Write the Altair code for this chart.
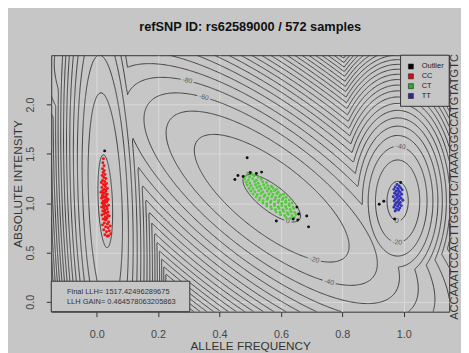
import numpy as np
import pandas as pd
import altair as alt
from collections import defaultdict

alt.data_transformers.disable_max_rows()

# ---------------- text ----------------
TITLE = "refSNP ID: rs62589000 / 572 samples"
X_TITLE = "ALLELE FREQUENCY"
Y_TITLE = "ABSOLUTE INTENSITY"
SIDE_TEXT = "ACCAAATCCACTTGGCTC/TAAAGGCCATGTATGTC"
STATS = ["Final LLH= 1517.42496289675", "LLH GAIN= 0.464578063205863"]
X_TICKS = [0.0, 0.2, 0.4, 0.6, 0.8, 1.0]
Y_TICKS = [0.0, 0.5, 1.0, 1.5, 2.0]
X_DOMAIN = [-0.148, 1.148]
Y_DOMAIN = [-0.1, 2.5]

LEGEND_LABELS = ["Outlier", "CC", "CT", "TT"]
LEGEND_COLORS = ["#000000", "#d01010", "#30a830", "#2c2c90"]
POINT_COLORS = ["#111111", "#f01515", "#52cc3a", "#3232b8"]

# ---------------- fitted cluster model ----------------
CLUSTERS = ["CC", "CT", "TT"]
MEAN_X = [0.028, 0.570, 0.980]
MEAN_Y = [1.020, 1.050, 1.020]
SD_X = [0.008, 0.037, 0.010]
SD_Y = [0.157, 0.095, 0.058]
RHO = [-0.25, -0.75, 0.0]
PEAK = [4.5, 3.2, 6.0]
LEVELS = list(range(0, -900, -20))

# contour labels: level and approximate place
LABEL_LEVEL = [-80, -60, 0, -20, -40, 0, -20, -40]
LABEL_X = [0.30, 0.355, 0.62, 0.707, 0.755, 0.978, 0.98, 0.99]
LABEL_Y = [2.32, 2.16, 0.79, 0.41, 0.17, 0.84, 0.62, 1.56]

# ---------------- samples ----------------
CC_PTS = [
    (0.022, 1.45), (0.020, 1.41), (0.024, 1.38), (0.019, 1.35), (0.025, 1.33), (0.021, 1.31),
    (0.027, 1.29), (0.018, 1.28), (0.023, 1.26), (0.030, 1.25), (0.019, 1.23), (0.026, 1.22),
    (0.015, 1.21), (0.032, 1.20), (0.022, 1.19), (0.028, 1.17), (0.017, 1.16), (0.035, 1.15),
    (0.024, 1.14), (0.020, 1.13), (0.030, 1.12), (0.014, 1.11), (0.026, 1.10), (0.034, 1.09),
    (0.019, 1.08), (0.029, 1.07), (0.023, 1.06), (0.016, 1.05), (0.037, 1.04), (0.027, 1.03),
    (0.021, 1.02), (0.032, 1.01), (0.018, 1.00), (0.025, 0.99), (0.039, 0.98), (0.029, 0.97),
    (0.016, 0.96), (0.023, 0.95), (0.034, 0.94), (0.027, 0.93), (0.020, 0.92), (0.037, 0.91),
    (0.031, 0.90), (0.024, 0.89), (0.017, 0.88), (0.041, 0.87), (0.028, 0.86), (0.034, 0.85),
    (0.021, 0.84), (0.030, 0.83), (0.039, 0.81), (0.025, 0.80), (0.035, 0.79), (0.019, 0.78),
    (0.044, 0.77), (0.029, 0.76), (0.037, 0.75), (0.023, 0.73), (0.041, 0.72), (0.032, 0.71),
    (0.046, 0.69), (0.027, 0.68), (0.039, 0.67), (0.035, 0.665), (0.026, 1.185), (0.021, 1.105),
    (0.031, 1.055), (0.024, 1.015), (0.033, 0.965), (0.026, 0.915), (0.036, 0.875), (0.022, 0.975),
    (0.029, 1.135), (0.018, 1.065), (0.034, 1.025), (0.027, 0.835),
]
CT_PTS = [
    (0.492, 1.305), (0.506, 1.295),
    (0.484, 1.272), (0.498, 1.265), (0.512, 1.278), (0.527, 1.262),
    (0.481, 1.243), (0.494, 1.236), (0.508, 1.248), (0.520, 1.232), (0.536, 1.241),
    (0.487, 1.212), (0.499, 1.205), (0.514, 1.218), (0.526, 1.203), (0.541, 1.214), (0.553, 1.207),
    (0.490, 1.183), (0.503, 1.176), (0.517, 1.188), (0.531, 1.172), (0.544, 1.185), (0.557, 1.178), (0.569, 1.171),
    (0.496, 1.152), (0.509, 1.146), (0.522, 1.158), (0.536, 1.143), (0.549, 1.155), (0.561, 1.147), (0.574, 1.153), (0.586, 1.141),
    (0.502, 1.122), (0.515, 1.116), (0.528, 1.127), (0.541, 1.113), (0.555, 1.124), (0.568, 1.118), (0.579, 1.126), (0.591, 1.112),
    (0.509, 1.092), (0.523, 1.085), (0.535, 1.097), (0.548, 1.083), (0.561, 1.094), (0.574, 1.087), (0.587, 1.096), (0.599, 1.082), (0.609, 1.091),
    (0.519, 1.062), (0.532, 1.055), (0.545, 1.067), (0.557, 1.053), (0.570, 1.064), (0.583, 1.057), (0.595, 1.066), (0.607, 1.052), (0.617, 1.061),
    (0.529, 1.032), (0.542, 1.025), (0.555, 1.037), (0.568, 1.023), (0.580, 1.034), (0.593, 1.027), (0.605, 1.036), (0.616, 1.022), (0.627, 1.031),
    (0.541, 1.002), (0.554, 0.995), (0.566, 1.007), (0.579, 0.993), (0.591, 1.004), (0.603, 0.997), (0.615, 1.006), (0.626, 0.992), (0.636, 1.001),
    (0.554, 0.972), (0.567, 0.965), (0.579, 0.977), (0.591, 0.963), (0.603, 0.974), (0.615, 0.967), (0.627, 0.976), (0.639, 0.962),
    (0.569, 0.942), (0.582, 0.935), (0.594, 0.947), (0.606, 0.933), (0.618, 0.944), (0.630, 0.937), (0.642, 0.945),
    (0.584, 0.912), (0.597, 0.905), (0.609, 0.917), (0.621, 0.903), (0.633, 0.914), (0.645, 0.907),
    (0.599, 0.882), (0.612, 0.875), (0.624, 0.887), (0.636, 0.873), (0.649, 0.884),
    (0.617, 0.852), (0.631, 0.845), (0.644, 0.856),
]
TT_PTS = [
    (0.978, 1.19), (0.985, 1.175), (0.972, 1.165), (0.990, 1.155), (0.980, 1.15), (0.968, 1.14),
    (0.995, 1.135), (0.983, 1.128), (0.975, 1.12), (0.988, 1.11), (0.970, 1.10), (0.981, 1.095),
    (0.993, 1.09), (0.976, 1.08), (0.986, 1.072), (0.966, 1.065), (0.979, 1.058), (0.991, 1.05),
    (0.973, 1.042), (0.984, 1.035), (0.997, 1.03), (0.969, 1.022), (0.980, 1.015), (0.989, 1.008),
    (0.975, 1.00), (0.985, 0.99), (0.971, 0.982), (0.992, 0.975), (0.980, 0.968), (0.968, 0.958),
    (0.987, 0.95), (0.976, 0.94), (0.983, 0.93), (0.972, 0.92),
]
OUT_PTS = [
    (0.026, 1.53), (0.450, 1.24), (0.477, 1.27), (0.490, 1.46), (0.537, 1.315), (0.520, 1.300),
    (0.585, 0.82), (0.640, 0.84), (0.652, 0.96), (0.658, 0.89), (0.684, 0.87), (0.690, 0.76),
    (0.655, 0.83), (0.935, 1.02), (0.920, 0.99), (0.990, 1.21), (0.970, 0.84), (0.500, 1.31),
    (0.460, 1.28),
]

BG = "#c6c6c6"
LINE = "#3e3e3e"
FONT = "Liberation Sans"
W, H = 405, 261
PX = W / (X_DOMAIN[1] - X_DOMAIN[0])
PY = H / (Y_DOMAIN[1] - Y_DOMAIN[0])

# ---------------- contour computation (marching squares) ----------------
gx = np.linspace(X_DOMAIN[0], X_DOMAIN[1], 361)
gy = np.linspace(Y_DOMAIN[0], Y_DOMAIN[1], 261)
GX, GY = np.meshgrid(gx, gy)


def comp(k):
    zx = (GX - MEAN_X[k]) / SD_X[k]
    zy = (GY - MEAN_Y[k]) / SD_Y[k]
    r = RHO[k]
    return PEAK[k] - 0.5 * (zx * zx - 2 * r * zx * zy + zy * zy) / (1 - r * r)


Z = np.maximum.reduce([comp(k) for k in range(len(CLUSTERS))])


def edge_pt(key, level):
    t, j, i = key
    if t == "h":
        z0, z1 = Z[j, i], Z[j, i + 1]
        s = (level - z0) / (z1 - z0)
        return gx[i] + s * (gx[i + 1] - gx[i]), gy[j]
    z0, z1 = Z[j, i], Z[j + 1, i]
    s = (level - z0) / (z1 - z0)
    return gx[i], gy[j] + s * (gy[j + 1] - gy[j])


def trace(level):
    B = Z >= level
    c = B[:-1, :-1].astype(int) + 2 * B[:-1, 1:] + 4 * B[1:, 1:] + 8 * B[1:, :-1]
    js, iis = np.nonzero((c > 0) & (c < 15))
    segs = []
    for j, i in zip(js.tolist(), iis.tolist()):
        cc = int(c[j, i])
        b0, b1, b2, b3 = cc & 1, (cc >> 1) & 1, (cc >> 2) & 1, (cc >> 3) & 1
        bottom, right, top, left = ("h", j, i), ("v", j, i + 1), ("h", j + 1, i), ("v", j, i)
        edges = []
        if b0 != b1:
            edges.append(bottom)
        if b1 != b2:
            edges.append(right)
        if b2 != b3:
            edges.append(top)
        if b3 != b0:
            edges.append(left)
        if len(edges) == 2:
            segs.append((edges[0], edges[1]))
        else:
            center = (Z[j, i] + Z[j, i + 1] + Z[j + 1, i + 1] + Z[j + 1, i]) / 4
            if (center >= level) == bool(b0):
                segs.append((bottom, right))
                segs.append((top, left))
            else:
                segs.append((left, bottom))
                segs.append((right, top))
    adj = defaultdict(list)
    for n, (a, b) in enumerate(segs):
        adj[a].append(n)
        adj[b].append(n)
    used = [False] * len(segs)

    def walk(start):
        out = []
        cur = start
        while True:
            nxt = None
            for m in adj[cur]:
                if not used[m]:
                    nxt = m
                    break
            if nxt is None:
                return out
            used[nxt] = True
            p, q = segs[nxt]
            cur = q if p == cur else p
            out.append(cur)

    lines = []
    for n in range(len(segs)):
        if used[n]:
            continue
        used[n] = True
        a, b = segs[n]
        fwd = walk(b)
        bwd = walk(a)
        chain = bwd[::-1] + [a, b] + fwd
        lines.append([edge_pt(k, level) for k in chain])
    return lines


rows = []
lines_by_level = {}
lid = 0
for lv in LEVELS:
    ls = trace(lv)
    lines_by_level[lv] = ls
    for ln in ls:
        for o, (x, y) in enumerate(ln):
            rows.append({"id": lid, "o": o, "x": round(float(x), 4), "y": round(float(y), 4)})
        lid += 1
contour_df = pd.DataFrame(rows)

# snap labels onto their contour
lab_rows = []
for lv, tx, ty in zip(LABEL_LEVEL, LABEL_X, LABEL_Y):
    best = None
    for ln in lines_by_level.get(lv, []):
        arr = np.array(ln)
        d = ((arr[:, 0] - tx) * PX) ** 2 + ((arr[:, 1] - ty) * PY) ** 2
        k = int(np.argmin(d))
        if best is None or d[k] < best[0]:
            best = (d[k], arr, k)
    if best is None:
        continue
    _, arr, k = best
    k0, k1 = max(k - 3, 0), min(k + 3, len(arr) - 1)
    dxp = (arr[k1, 0] - arr[k0, 0]) * PX
    dyp = -(arr[k1, 1] - arr[k0, 1]) * PY
    ang = np.degrees(np.arctan2(dyp, dxp))
    if ang > 90:
        ang -= 180
    if ang < -90:
        ang += 180
    lab_rows.append({"x": float(arr[k, 0]), "y": float(arr[k, 1]), "t": str(lv), "a": float(ang % 360)})
label_df = pd.DataFrame(lab_rows)

pts = []
for name, plist in [("CC", CC_PTS), ("CT", CT_PTS), ("TT", TT_PTS), ("Outlier", OUT_PTS)]:
    for x, y in plist:
        pts.append({"x": x, "y": y, "g": name})
pts_df = pd.DataFrame(pts)


def X():
    return alt.X("x:Q", scale=alt.Scale(domain=X_DOMAIN, nice=False, zero=False),
                 axis=alt.Axis(values=X_TICKS, format=".1f", title=X_TITLE, grid=True,
                               gridColor="#d9d9d9", domain=False, tickColor="#333333", tickSize=5,
                               labelFontSize=11, labelColor="#444444", labelFont=FONT, labelPadding=12,
                               titleFont=FONT, titleFontSize=12, titleFontWeight="normal",
                               titleColor="#333333", titlePadding=2))


def Y():
    return alt.Y("y:Q", scale=alt.Scale(domain=Y_DOMAIN, nice=False, zero=False),
                 axis=alt.Axis(values=Y_TICKS, format=".1f", title=Y_TITLE, grid=True,
                               gridColor="#d9d9d9", domain=False, tickColor="#333333", tickSize=5,
                               labelFontSize=11, labelColor="#444444", labelFont=FONT, labelAngle=270,
                               labelAlign="center", labelBaseline="bottom", labelPadding=11,
                               titleFont=FONT, titleFontSize=12, titleFontWeight="normal",
                               titleColor="#333333", titlePadding=0))


contours = alt.Chart(contour_df).mark_line(color=LINE, strokeWidth=1.0, clip=True).encode(
    x=X(), y=Y(), detail="id:N", order="o:Q")

label_knock = alt.Chart(label_df).mark_text(fontSize=7, font=FONT, fill=BG, stroke=BG, strokeWidth=4).encode(
    x=X(), y=Y(), text="t:N", angle=alt.Angle("a:Q", scale=None))
labels = alt.Chart(label_df).mark_text(fontSize=7, font=FONT, color="#5a5a5a").encode(
    x=X(), y=Y(), text="t:N", angle=alt.Angle("a:Q", scale=None))

points = alt.Chart(pts_df).mark_circle(size=9, opacity=1).encode(
    x=X(), y=Y(),
    color=alt.Color("g:N", scale=alt.Scale(domain=LEGEND_LABELS, range=POINT_COLORS), legend=None))

# stats box (bottom-left)
stats_box = alt.Chart(pd.DataFrame({"a": [0]})).mark_rect(fill=BG, stroke="#333333", strokeWidth=1).encode(
    x=alt.value(0), x2=alt.value(141), y=alt.value(230), y2=alt.value(261))
stats_df = pd.DataFrame({"t": STATS, "py": [240.5, 251.5]})
stats_text = alt.Chart(stats_df).mark_text(align="left", baseline="middle", fontSize=7.6, font=FONT,
                                           color="#333333").encode(
    x=alt.value(16), y=alt.Y("py:Q", scale=None), text="t:N")

# legend box (top-right)
leg_box = alt.Chart(pd.DataFrame({"a": [0]})).mark_rect(fill=BG, stroke="#333333", strokeWidth=1).encode(
    x=alt.value(355.5), x2=alt.value(405), y=alt.value(0), y2=alt.value(52))
leg_df = pd.DataFrame({"t": LEGEND_LABELS, "c": LEGEND_COLORS, "py": [11.5, 21.5, 31.5, 41.5]})
leg_sq = alt.Chart(leg_df).mark_square(size=26, filled=True, stroke="#222222", strokeWidth=0.6,
                                       opacity=1).encode(
    x=alt.value(366), y=alt.Y("py:Q", scale=None), color=alt.Color("c:N", scale=None))
leg_tx = alt.Chart(leg_df).mark_text(align="left", baseline="middle", fontSize=7.6, font=FONT,
                                     color="#222222").encode(
    x=alt.value(377), y=alt.Y("py:Q", scale=None), text="t:N")

side = alt.Chart(pd.DataFrame({"t": [SIDE_TEXT]})).mark_text(
    angle=270, fontSize=11.3, font=FONT, color="#333333", baseline="middle", align="center").encode(
    x=alt.value(411), y=alt.value(134), text="t:N")

chart = alt.layer(
    contours, label_knock, labels, points, stats_box, stats_text, leg_box, leg_sq, leg_tx, side
).properties(
    width=W, height=H,
    title=alt.TitleParams(TITLE, fontSize=13, fontWeight="bold", font=FONT, color="#111111",
                          anchor="middle", offset=20),
    autosize=alt.AutoSizeParams(type="none"),
    padding={"left": 44, "top": 45, "right": 12, "bottom": 39},
).configure(background=BG).configure_view(stroke="#333333", strokeWidth=1, fill=BG)

chart.save("out.html", embed_options={"renderer": "svg", "actions": False})
